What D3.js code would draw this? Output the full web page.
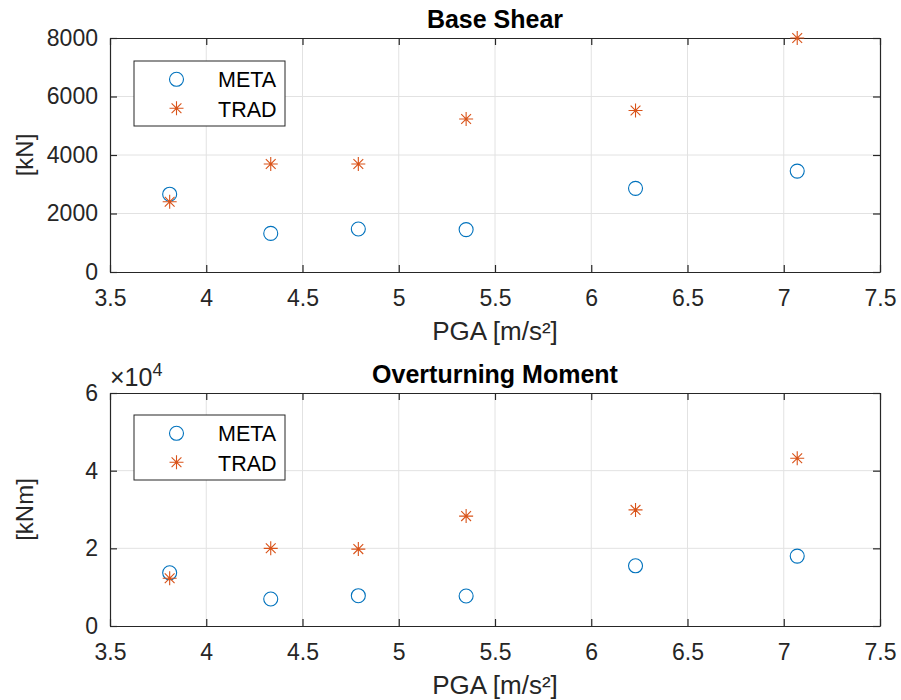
<!DOCTYPE html>
<html><head><meta charset="utf-8">
<script src="https://cdn.jsdelivr.net/npm/d3@7"></script>
<style>body{margin:0;background:#fff}svg{display:block}text{font-family:"Liberation Sans",Arial,sans-serif}</style>
</head><body><svg id="c" width="901" height="700"></svg>
<script>
const pga = [3.81, 4.335, 4.79, 5.35, 6.23, 7.07];
const shearMeta = [2660, 1320, 1470, 1450, 2860, 3450];
const shearTrad = [2400, 3690, 3690, 5230, 5520, 8000];
const momentMeta = [13700, 6950, 7800, 7730, 15500, 18000];
const momentTrad = [12300, 20000, 19800, 28300, 29900, 43200];
const xTicks = [3.5, 4, 4.5, 5, 5.5, 6, 6.5, 7, 7.5];
const shearTicks = [0, 2000, 4000, 6000, 8000];
const momentTicks = [0, 20000, 40000, 60000];
const seriesNames = ["META", "TRAD"];

const svg = d3.select("#c");
const ink = "#262626", blue = "#0072BD", orange = "#D95319";
const FF = '"Liberation Sans",Arial,sans-serif';

function panel(cfg){
  const g = svg.append("g");
  const x = d3.scaleLinear().domain([3.5, 7.5]).range([110, 880]);
  const y = d3.scaleLinear().domain(cfg.ydom).range([cfg.bottom, cfg.top]);
  // grid
  g.selectAll(".gx").data(xTicks.slice(1,-1)).join("line")
    .attr("x1", d=>x(d)).attr("x2", d=>x(d)).attr("y1", cfg.top).attr("y2", cfg.bottom)
    .attr("stroke", "#e2e2e2").attr("stroke-width", 1);
  g.selectAll(".gy").data(cfg.yticks.slice(1,-1)).join("line")
    .attr("x1", 110).attr("x2", 880).attr("y1", d=>y(d)).attr("y2", d=>y(d))
    .attr("stroke", "#e2e2e2").attr("stroke-width", 1);
  // axes
  const ax = d3.axisBottom(x).tickValues(xTicks).tickSizeInner(-7).tickSizeOuter(0).tickPadding(18).tickFormat(d3.format("~g"));
  const axTop = d3.axisTop(x).tickValues(xTicks).tickSizeInner(-7).tickSizeOuter(0).tickFormat("");
  const ay = d3.axisLeft(y).tickValues(cfg.yticks).tickSizeInner(-7).tickSizeOuter(0).tickPadding(12).tickFormat(cfg.fmt);
  const ayR = d3.axisRight(y).tickValues(cfg.yticks).tickSizeInner(-7).tickSizeOuter(0).tickFormat("");
  [[ax, `translate(0,${cfg.bottom})`],[axTop, `translate(0,${cfg.top})`],[ay, "translate(110,0)"],[ayR, "translate(880,0)"]].forEach(([a,t])=>{
    const ag = g.append("g").attr("transform", t).call(a);
    ag.select(".domain").attr("stroke", ink).attr("stroke-width", 1.2);
    ag.selectAll(".tick line").attr("stroke", ink).attr("stroke-width", 1.2);
    ag.selectAll(".tick text").attr("fill", ink).style("font-size", "23px").style("font-family", FF);
  });
  // title
  g.append("text").attr("x", 495).attr("y", cfg.top - 10).attr("text-anchor", "middle")
    .style("font-size", "25px").style("font-weight", "bold").attr("fill", "#000").text(cfg.title);
  g.append("text").attr("x", 495).attr("y", cfg.bottom + 68).attr("text-anchor", "middle")
    .style("font-size", "26px").attr("fill", ink).text("PGA [m/s²]");
  g.append("text").attr("transform", `translate(33,${(cfg.top+cfg.bottom)/2}) rotate(-90)`).attr("text-anchor", "middle")
    .style("font-size", "24px").attr("fill", ink).text(cfg.ylabel);
  if (cfg.exp) {
    const t = g.append("text").attr("x", 110).attr("y", cfg.top - 7).style("font-size", "25px").attr("fill", ink);
    t.append("tspan").text("×10");
    t.append("tspan").attr("dy", -10).style("font-size", "18px").text("4");
  }
  // markers
  const star = (sel, r) => sel.append("path")
    .attr("d", `M${-r},0H${r}M0,${-r}V${r}M${-r*0.7},${-r*0.7}L${r*0.7},${r*0.7}M${-r*0.7},${r*0.7}L${r*0.7},${-r*0.7}`)
    .attr("stroke", orange).attr("stroke-width", 1.1).attr("fill", "none");
  g.selectAll(".m").data(pga.map((p,i)=>[p, cfg.meta[i]])).join("circle")
    .attr("cx", d=>x(d[0])).attr("cy", d=>y(d[1])).attr("r", 7)
    .attr("fill", "none").attr("stroke", blue).attr("stroke-width", 1.1);
  pga.forEach((p,i)=>{
    const s = g.append("g").attr("transform", `translate(${x(p)},${y(cfg.trad[i])})`);
    star(s, 7);
  });
  // legend
  const lg = g.append("g").attr("transform", `translate(134,${cfg.legTop})`);
  lg.append("rect").attr("x", 0).attr("y", 0).attr("width", 151).attr("height", 65)
    .attr("fill", "#fff").attr("stroke", ink).attr("stroke-width", 1);
  lg.append("circle").attr("cx", 42.5).attr("cy", 18.3).attr("r", 7).attr("fill", "none").attr("stroke", blue).attr("stroke-width", 1.1);
  star(lg.append("g").attr("transform", "translate(42.5,47.3)"), 7);
  seriesNames.forEach((n,i)=>{
    lg.append("text").attr("x", 84).attr("y", 26.3 + i*29.2).style("font-size", "21.5px").attr("fill", "#000").text(n);
  });
}

panel({top: 38, bottom: 272, ydom: [0, 8000], yticks: shearTicks, fmt: d3.format("d"),
  title: "Base Shear", ylabel: "[kN]", meta: shearMeta, trad: shearTrad, legTop: 61});
panel({top: 393, bottom: 626, ydom: [0, 60000], yticks: momentTicks, fmt: d=>d/10000,
  title: "Overturning Moment", ylabel: "[kNm]", meta: momentMeta, trad: momentTrad, legTop: 415, exp: true});
</script></body></html>
